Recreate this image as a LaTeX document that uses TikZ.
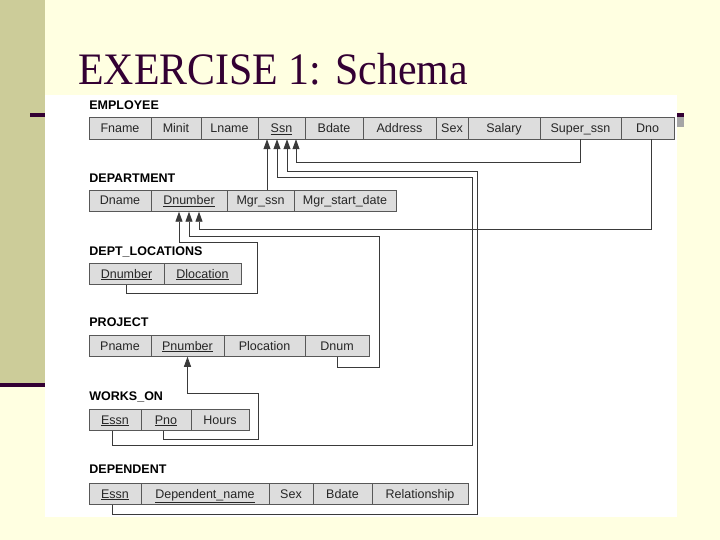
\documentclass[tikz,border=0pt]{standalone}
\usepackage{fontspec}
\setmainfont{Liberation Serif}
\setsansfont{Liberation Sans}
\usetikzlibrary{arrows.meta, positioning, calc}
\definecolor{cpaper}{HTML}{FFFFE1}
\definecolor{ckhaki}{HTML}{CCCC99}
\definecolor{cplum}{HTML}{330033}
\definecolor{ccell}{HTML}{DDDDDD}
\definecolor{cline}{HTML}{3A3A3A}
\tikzset{
  every picture/.style={font=\sffamily, line width=0.8pt},
  cell/.style={draw=cline!85, fill=ccell, minimum height=21.5pt, inner sep=0pt, outer sep=0pt,
    text height=9pt, text depth=1pt, font=\sffamily\fontsize{12.5}{14}\selectfont, text=black!85},
  rel/.style={anchor=west, inner sep=0pt, font=\sffamily\bfseries\fontsize{12.5}{14}\selectfont},
  fk/.style={-{Triangle[width=7pt, length=10pt]}, draw=cline, line width=0.9pt},
  title/.style={anchor=base west, inner sep=0pt, text=cplum, xscale=0.93, font=\rmfamily\fontsize{45}{50}\selectfont},
}

\begin{document}
\begin{tikzpicture}[x=1pt, y=-1pt]
  \useasboundingbox (0,0) rectangle (720,540);
  % slide
  \fill[cpaper] (0,0) rectangle (720,540);
  \fill[ckhaki] (0,0) rectangle (45,383);
  \fill[cplum] (0,383) rectangle (45,387);
  \fill[black!35] (676,117) rectangle (684,127);
  \fill[cplum] (30,113.5) rectangle (684,117.5);
  \node[title] (ttl) at (78,85) {EXERCISE 1: Schema};
  \fill[white] (45,95) rectangle (677,517);

  % relations
  \node[rel] (l-emp) at (89,105.5) {EMPLOYEE};
  \foreach \x/\w/\t/\n in {120/62/Fname/fname, 176/50/Minit/minit, 229.5/57/Lname/lname,
      281.5/47/{\underline{Ssn}}/ssn, 334/58/Bdate/bdate, 399.5/73/Address/addr, 452/32/Sex/sex,
      504/72/Salary/salary, 580.5/81/{Super\_ssn}/super, 647.5/53/Dno/dno}
    \node[cell, minimum width=\w pt] (emp-\n) at (\x,128.5) {\t};

  \node[rel] (l-dept) at (89,178.5) {DEPARTMENT};
  \foreach \x/\w/\t/\n in {120/62/Dname/dname, 189/76/{\underline{Dnumber}}/dnum,
      260.5/67/{Mgr\_ssn}/mgr, 345/102/{Mgr\_start\_date}/start}
    \node[cell, minimum width=\w pt] (dept-\n) at (\x,201) {\t};

  \node[rel] (l-dloc) at (89,252) {DEPT\_LOCATIONS};
  \foreach \x/\w/\t/\n in {126.5/75/{\underline{Dnumber}}/dnum, 202.5/77/{\underline{Dlocation}}/loc}
    \node[cell, minimum width=\w pt] (dloc-\n) at (\x,274) {\t};

  \node[rel] (l-proj) at (89,322.5) {PROJECT};
  \foreach \x/\w/\t/\n in {120/62/Pname/pname, 187.5/73/{\underline{Pnumber}}/pnum,
      264.5/81/Plocation/ploc, 337/64/Dnum/dnum}
    \node[cell, minimum width=\w pt] (proj-\n) at (\x,346) {\t};

  \node[rel] (l-works) at (89,396.5) {WORKS\_ON};
  \foreach \x/\w/\t/\n in {115/52/{\underline{Essn}}/essn, 166/50/{\underline{Pno}}/pno, 220/58/Hours/hours}
    \node[cell, minimum width=\w pt] (works-\n) at (\x,420) {\t};

  \node[rel] (l-depn) at (89,469) {DEPENDENT};
  \foreach \x/\w/\t/\n in {115/52/{\underline{Essn}}/essn, 205/128/{\underline{Dependent\_name}}/name,
      291/44/Sex/sex, 342.5/59/Bdate/bdate, 420/96/Relationship/rel}
    \node[cell, minimum width=\w pt] (depn-\n) at (\x,494) {\t};

  % foreign keys
  \draw[fk] ([xshift=6.5pt]dept-mgr.north) -- ([xshift=-14.5pt]emp-ssn.south);
  \draw[fk] (emp-super.south) -- ++(0,23.5) -| ([xshift=14.5pt]emp-ssn.south);
  \draw[fk] ([xshift=-3pt]depn-essn.south) -- ++(0,10) -| (477.5,171) -| ([xshift=5.5pt]emp-ssn.south);
  \draw[fk] ([xshift=-3pt]works-essn.south) -- ++(0,15) -| (472,177) -| ([xshift=-4.5pt]emp-ssn.south);
  \draw[fk] ([xshift=4pt]emp-dno.south) -- ++(0,90.5) -| ([xshift=10pt]dept-dnum.south);
  \draw[fk] (proj-dnum.south) -- ++(0,10.5) -| (379,236) -| (dept-dnum.south);
  \draw[fk] (dloc-dnum.south) -- ++(0,9) -| (257,242) -| ([xshift=-10pt]dept-dnum.south);
  \draw[fk] ([xshift=-3pt]works-pno.south) -- ++(0,9) -| (258.5,393) -| (proj-pnum.south);
\end{tikzpicture}
\end{document}
